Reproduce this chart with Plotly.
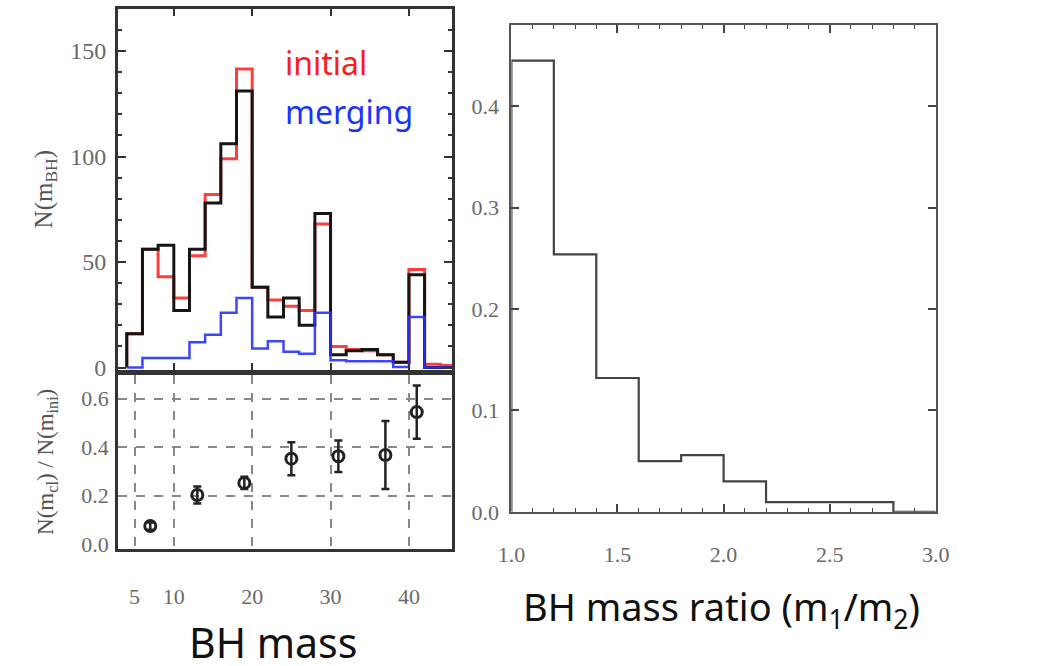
import plotly.graph_objects as go

# ---------------- data ----------------
mass_edges = [4, 6, 8, 10, 12, 14, 16, 18, 20, 22, 24, 26, 28, 30, 32, 34, 36, 38, 40, 42, 44, 46]
n_total = [16, 56, 58, 27, 56, 78, 106, 131, 38, 24, 33, 20, 73, 6, 8, 8.5, 6, 2.5, 44, 0, 0]
n_initial = [16, 56, 43, 33, 53, 82, 99, 141.5, 38, 32, 29, 27, 68, 10, 8.5, 8, 6, 2.5, 46.5, 1.5, 1]
n_merging = [0, 4.5, 4.5, 4.5, 12, 15.5, 26, 33, 9, 12.5, 7.5, 6.5, 26, 3.5, 3, 3, 3, 0.3, 24, 0, 0]

ratio_mass = [7, 13, 19, 25, 31, 37, 41]
ratio_val = [0.075, 0.203, 0.253, 0.353, 0.363, 0.368, 0.545]
ratio_err = [0.015, 0.035, 0.025, 0.068, 0.065, 0.14, 0.11]

q_edges = [1.0, 1.2, 1.4, 1.6, 1.8, 2.0, 2.2, 2.4, 2.6, 2.8, 3.0]
q_frac = [0.445, 0.254, 0.132, 0.050, 0.056, 0.030, 0.0095, 0.0095, 0.0095, 0.0]

top_yticks = [0, 50, 100, 150]
bot_yticks = [0.0, 0.2, 0.4, 0.6]
bot_ygrid = [0.2, 0.4, 0.6]
bot_xticks = [5, 10, 20, 30, 40]
right_xticks = [1.0, 1.5, 2.0, 2.5, 3.0]
right_yticks = [0.0, 0.1, 0.2, 0.3, 0.4]


def step_xy(edges, vals):
    xs = [edges[0]] + list(edges)
    ys = [0] + list(vals) + [vals[-1]]
    return xs, ys


W, H = 1052, 666


def px_x(p):
    return p / W


def px_y(p):
    return 1 - p / H


fig = go.Figure()

# top-left histograms
for vals, col, wid in [(n_initial, "rgba(255,40,40,0.9)", 3),
                       (n_total, "#151515", 3),
                       (n_merging, "rgba(40,50,255,0.9)", 2.5)]:
    xs, ys = step_xy(mass_edges, vals)
    fig.add_trace(go.Scatter(x=xs, y=ys, mode="lines", line=dict(color=col, width=wid, shape="hv"),
                             xaxis="x", yaxis="y", showlegend=False, hoverinfo="skip"))

# bottom-left ratio points
fig.add_trace(go.Scatter(x=ratio_mass, y=ratio_val, mode="markers",
                         marker=dict(symbol="circle-open", size=11, color="#222", line=dict(width=3, color="#222")),
                         error_y=dict(type="data", array=ratio_err, color="#222", thickness=2.5, width=4),
                         xaxis="x2", yaxis="y2", showlegend=False, hoverinfo="skip"))

# right histogram
xs, ys = step_xy(q_edges, q_frac)
fig.add_trace(go.Scatter(x=xs, y=ys, mode="lines", line=dict(color="#444", width=2.2, shape="hv"),
                         xaxis="x3", yaxis="y3", showlegend=False, hoverinfo="skip"))

tickfont = dict(family="Liberation Serif", size=24, color="#6a6a6a")
tickfont_s = dict(family="Liberation Serif", size=22, color="#6a6a6a")

left_dom = [px_x(107), px_x(450)]
bot_yrange = [-0.02, 0.70]
fig.update_layout(
    width=W, height=H, margin=dict(l=0, r=0, t=0, b=0),
    paper_bgcolor="white", plot_bgcolor="white",
    xaxis=dict(domain=left_dom, range=[2.9, 45.5], anchor="y", showticklabels=False,
               tickvals=[10, 20, 30, 40], ticks="inside", ticklen=7, tickwidth=2, tickcolor="#333",
               showline=True, mirror="ticks", linecolor="#333", linewidth=3, showgrid=False, zeroline=False),
    yaxis=dict(domain=[px_y(377), px_y(9)], range=[-1, 170], anchor="x",
               tickvals=top_yticks, ticks="inside", ticklen=8, tickwidth=2, tickcolor="#333",
               minor=dict(dtick=10, ticks="inside", ticklen=4, tickwidth=1.5, tickcolor="#333"),
               tickfont=tickfont, ticklabelstandoff=4,
               showline=True, mirror="ticks", linecolor="#333", linewidth=3, showgrid=False, zeroline=False),
    xaxis2=dict(domain=left_dom, range=[2.9, 45.5], anchor="y2",
                tickvals=bot_xticks, ticks="", tickfont=tickfont_s, ticklabelstandoff=26,
                showline=True, mirror=True, linecolor="#333", linewidth=3,
                showgrid=True, gridcolor="#888", griddash="dash", gridwidth=2, zeroline=False),
    yaxis2=dict(domain=[px_y(560), px_y(382)], range=bot_yrange, anchor="x2",
                tickvals=bot_yticks, ticktext=["0.0", "0.2", "0.4", "0.6"], ticks="", tickfont=tickfont_s,
                ticklabelstandoff=2,
                showline=True, mirror=True, linecolor="#333", linewidth=3,
                showgrid=False, zeroline=False),
    yaxis4=dict(domain=[px_y(560), px_y(382)], range=bot_yrange, anchor="x2", overlaying="y2",
                tickvals=bot_ygrid, showticklabels=False, ticks="",
                showgrid=True, gridcolor="#888", griddash="dash", gridwidth=2, zeroline=False, showline=False),
    xaxis3=dict(domain=[px_x(511), px_x(947)], range=[1.0, 3.0], anchor="y3",
                tickvals=right_xticks, ticktext=["1.0", "1.5", "2.0", "2.5", "3.0"],
                ticks="inside", ticklen=8, tickwidth=1.5, tickcolor="#444",
                minor=dict(dtick=0.1, ticks="inside", ticklen=4, tickwidth=1.2, tickcolor="#444"),
                tickfont=tickfont_s, ticklabelstandoff=22,
                showline=True, mirror="ticks", linecolor="#555", linewidth=2.2, showgrid=False, zeroline=False),
    yaxis3=dict(domain=[px_y(522), px_y(25)], range=[0, 0.4807], anchor="x3",
                tickvals=right_yticks, ticktext=["0.0", "0.1", "0.2", "0.3", "0.4"],
                ticks="inside", ticklen=8, tickwidth=1.5, tickcolor="#444",
                tickfont=tickfont_s, ticklabelstandoff=6,
                showline=True, mirror="ticks", linecolor="#555", linewidth=2.2, showgrid=False, zeroline=False),
)

# invisible trace to activate the grid-only overlay axis
fig.add_trace(go.Scatter(x=[ratio_mass[0]], y=[ratio_val[0]], mode="markers", marker=dict(opacity=0),
                         xaxis="x2", yaxis="y4", showlegend=False, hoverinfo="skip"))

serif_title = dict(family="Liberation Serif", size=25, color="#555")
sans = "Noto Sans"
fig.add_annotation(x=px_x(32), y=px_y(193), xref="paper", yref="paper", text="N(m<sub>BH</sub>)",
                   textangle=-90, showarrow=False, font=serif_title, xanchor="center", yanchor="middle")
fig.add_annotation(x=px_x(34), y=px_y(471), xref="paper", yref="paper",
                   text="N(m<sub>cl</sub>) / N(m<sub>ini</sub>)",
                   textangle=-90, showarrow=False, font=dict(family="Liberation Serif", size=23, color="#555"),
                   xanchor="center", yanchor="middle")
fig.add_annotation(x=px_x(276), y=px_y(64), xref="paper", yref="paper", text="initial",
                   showarrow=False, font=dict(family=sans, size=32, color="#ff1a1a"),
                   xanchor="left", yanchor="middle")
fig.add_annotation(x=px_x(276), y=px_y(114), xref="paper", yref="paper", text="merging",
                   showarrow=False, font=dict(family=sans, size=32, color="#1a33ff"),
                   xanchor="left", yanchor="middle")
fig.add_annotation(x=px_x(266), y=px_y(655), xref="paper", yref="paper", text="BH mass",
                   showarrow=False, font=dict(family=sans, size=41, color="#111"),
                   xanchor="center", yanchor="middle")
fig.add_annotation(x=px_x(727), y=px_y(621), xref="paper", yref="paper",
                   text="BH mass ratio (m<sub>1</sub>/m<sub>2</sub>)",
                   showarrow=False, font=dict(family=sans, size=38, color="#111"),
                   xanchor="center", yanchor="middle")

fig.write_html("out.html")
